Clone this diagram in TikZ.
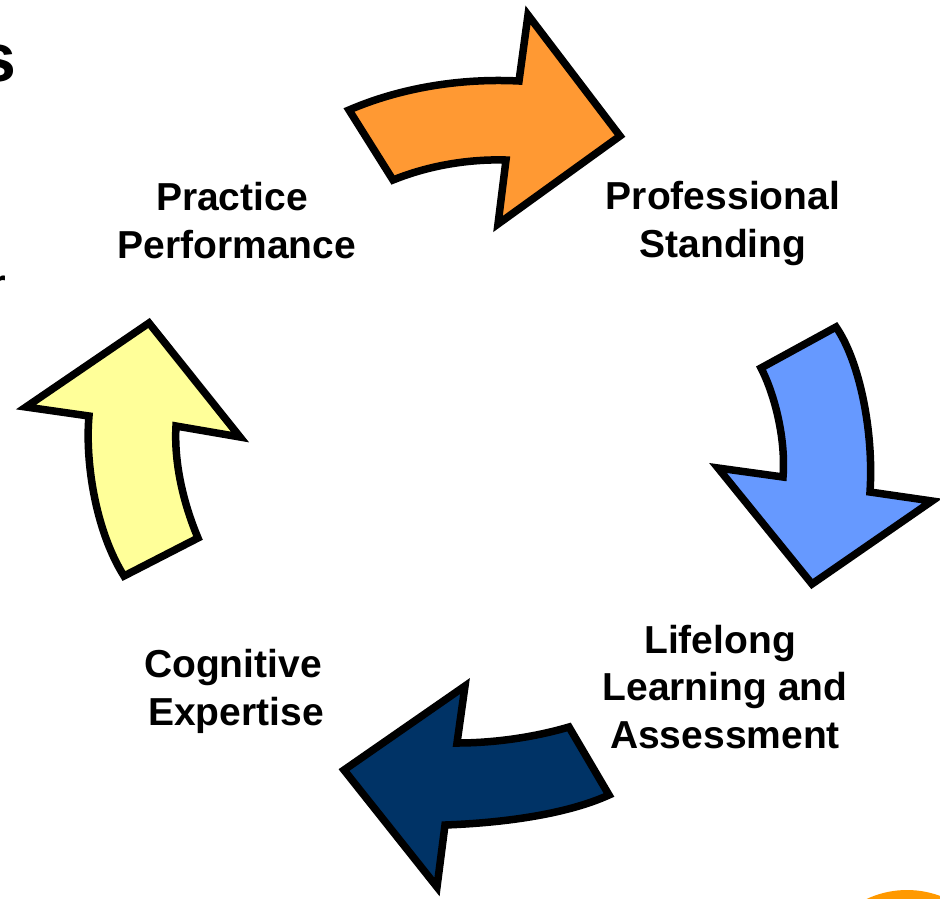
\documentclass[tikz,border=0pt]{standalone}
\usepackage{fontspec}
\setmainfont{Liberation Sans}
\definecolor{arrorange}{HTML}{FF9933}
\definecolor{arrblue}{HTML}{6699FF}
\definecolor{arryellow}{HTML}{FFFF99}
\definecolor{arrnavy}{HTML}{003366}
\definecolor{discorange}{HTML}{FF9900}
\tikzset{
  arrowshape/.style={draw=black, line width=7.5pt, line join=miter, miter limit=10},
  lbl/.style={align=center, inner sep=0pt, font=\bfseries\fontsize{39}{47.5}\selectfont},
}
\begin{document}
\begin{tikzpicture}[x=1pt,y=-1pt]
\useasboundingbox (0,0) rectangle (940,898);
\clip (0,0) rectangle (940,898);
\fill[white] (0,0) rectangle (940,898);

% cut-off fragments at the edges
\node[anchor=base east, inner sep=0pt, font=\bfseries\fontsize{68}{80}\selectfont] (fragS) at (17,81) {s};
\node[anchor=base east, inner sep=0pt, font=\bfseries\fontsize{40}{48}\selectfont] (fragR) at (6,297) {r};
\fill[discorange] (907,985) circle (95);

% orange arrow (top)
\path[arrowshape, fill=arrorange] (349,110) .. controls (400,88) and (460,78) .. (519,81)
  -- (528,15) -- (620,136) -- (498,224) -- (506,160)
  .. controls (470,159) and (430,165) .. (393,180) -- cycle;

% blue arrow (right)
\path[arrowshape, fill=arrblue] (761,368) -- (836,327)
  .. controls (859,360) and (874,430) .. (870,492)
  -- (932,501) -- (812,584) -- (718,468) -- (783,477)
  .. controls (786,440) and (775,395) .. (761,368) -- cycle;

% navy arrow (bottom)
\path[arrowshape, fill=arrnavy] (465,686) -- (457,743)
  .. controls (495,743) and (535,737) .. (569,727)
  -- (609,795)
  .. controls (565,815) and (500,823) .. (445,825)
  -- (437,887) -- (344,770) -- cycle;

% yellow arrow (left)
\path[arrowshape, fill=arryellow] (149,323) -- (26,407) -- (89,416)
  .. controls (85,460) and (95,530) .. (124,576)
  -- (198,538)
  .. controls (182,500) and (174,460) .. (176,426)
  -- (240,437) -- cycle;

% labels (base anchor = baseline of the last line)
\node[lbl, anchor=base] (pp) at (237,258) {Practice\hspace*{10pt}\\Performance};
\node[lbl, anchor=base] (ps) at (723,257) {Professional\\Standing};
\node[lbl, anchor=base] (lla) at (725,748) {Lifelong\hspace*{10pt}\\Learning and\\Assessment};
\node[lbl, anchor=base] (ce) at (236,725) {Cognitive\hspace*{6pt}\\Expertise};
\end{tikzpicture}
\end{document}
